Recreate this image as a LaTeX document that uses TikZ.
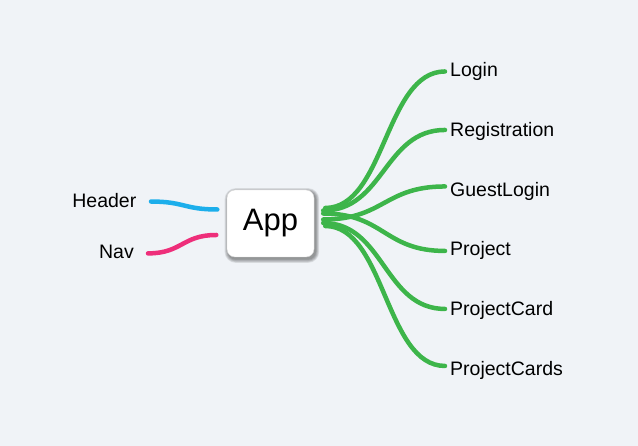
\documentclass[tikz,border=0pt]{standalone}
\usepackage{fontspec}
\setmainfont{Liberation Sans}
\usetikzlibrary{calc,backgrounds}
\definecolor{bgc}{HTML}{F0F3F7}
\definecolor{greenc}{HTML}{3DB54A}
\definecolor{bluec}{HTML}{1CAEEB}
\definecolor{pinkc}{HTML}{EE2E7A}
\tikzset{
  lbl/.style={inner sep=0pt, font=\fontsize{19.5}{22}\selectfont, text=black},
  appbox/.style={draw=black!15, line width=0.4pt, fill=white, rounded corners=8pt,
     minimum width=87pt, minimum height=67pt, inner sep=0pt,
     font=\fontsize{31}{36}\selectfont},
  shadowlayer/.style={fill=black, opacity=0.09},
  branch/.style={line width=4.5pt, line cap=round},
  gb/.style={branch, greenc},
}
\newcommand{\scurve}[3]{%
  \draw[#1] let \p1=(#2), \p2=(#3) in
    (\p1) .. controls ({0.5*\x1+0.5*\x2},\y1) and ({0.5*\x1+0.5*\x2},\y2) .. (\p2);}
\begin{document}
\begin{tikzpicture}[x=1pt,y=-1pt]
\node[appbox] (app) at (270.5,223.5) {App};

\begin{scope}[on background layer]
\fill[bgc] (0,0) rectangle (638,446);
\foreach \i in {0,...,4}{
  \fill[shadowlayer, rounded corners={8pt+\i*0.8pt}]
    ($(app.north west)+({1-\i*0.8},{1.5-\i*0.8})$) rectangle
    ($(app.south east)+({1.8+\i*0.8},{2.5+\i*0.8})$);
}
\end{scope}
\useasboundingbox (0,0) rectangle (638,446);

\node[lbl, anchor=base west] (login) at (450,77) {Login};
\node[lbl, anchor=base west] (reg) at (450,137) {Registration};
\node[lbl, anchor=base west] (guest) at (450,196.5) {GuestLogin};
\node[lbl, anchor=base west] (proj) at (450,256) {Project};
\node[lbl, anchor=base west] (pcard) at (450,316) {ProjectCard};
\node[lbl, anchor=base west] (pcards) at (450,376) {ProjectCards};
\node[lbl, anchor=base east] (header) at (136.5,208) {Header};
\node[lbl, anchor=base east] (nav) at (134,259) {Nav};

% connector end points
\coordinate (eLogin) at ($(login.west)+(-5,-0.5)$);
\coordinate (eReg) at ($(reg.west)+(-5,-2)$);
\coordinate (eGuest) at ($(guest.west)+(-5,-5)$);
\coordinate (eProj) at ($(proj.west)+(-5,0)$);
\coordinate (eCard) at ($(pcard.west)+(-5,-2)$);
\coordinate (eCards) at ($(pcards.west)+(-5,-5)$);

\coordinate (sLogin) at ($(app.east)+(11,-15.5)$);
\coordinate (sReg) at ($(app.east)+(9,-13)$);
\coordinate (sProj) at ($(app.east)+(9,-10)$);
\coordinate (sGuest) at ($(app.east)+(9,-4)$);
\coordinate (sCard) at ($(app.east)+(9,-0.5)$);
\coordinate (sCards) at ($(app.east)+(11,2.5)$);

\coordinate (hS) at ($(header.east)+(14.5,0.5)$);
\coordinate (hE) at ($(app.west)+(-9.5,-14)$);
\coordinate (nS) at ($(nav.east)+(14,1)$);
\coordinate (nE) at ($(app.west)+(-10.5,11.5)$);

\scurve{gb}{sLogin}{eLogin}
\scurve{gb}{sReg}{eReg}
\scurve{gb}{sGuest}{eGuest}
\scurve{gb}{sProj}{eProj}
\scurve{gb}{sCard}{eCard}
\scurve{gb}{sCards}{eCards}
\scurve{branch, bluec}{hS}{hE}
\scurve{branch, pinkc}{nS}{nE}
\end{tikzpicture}
\end{document}
